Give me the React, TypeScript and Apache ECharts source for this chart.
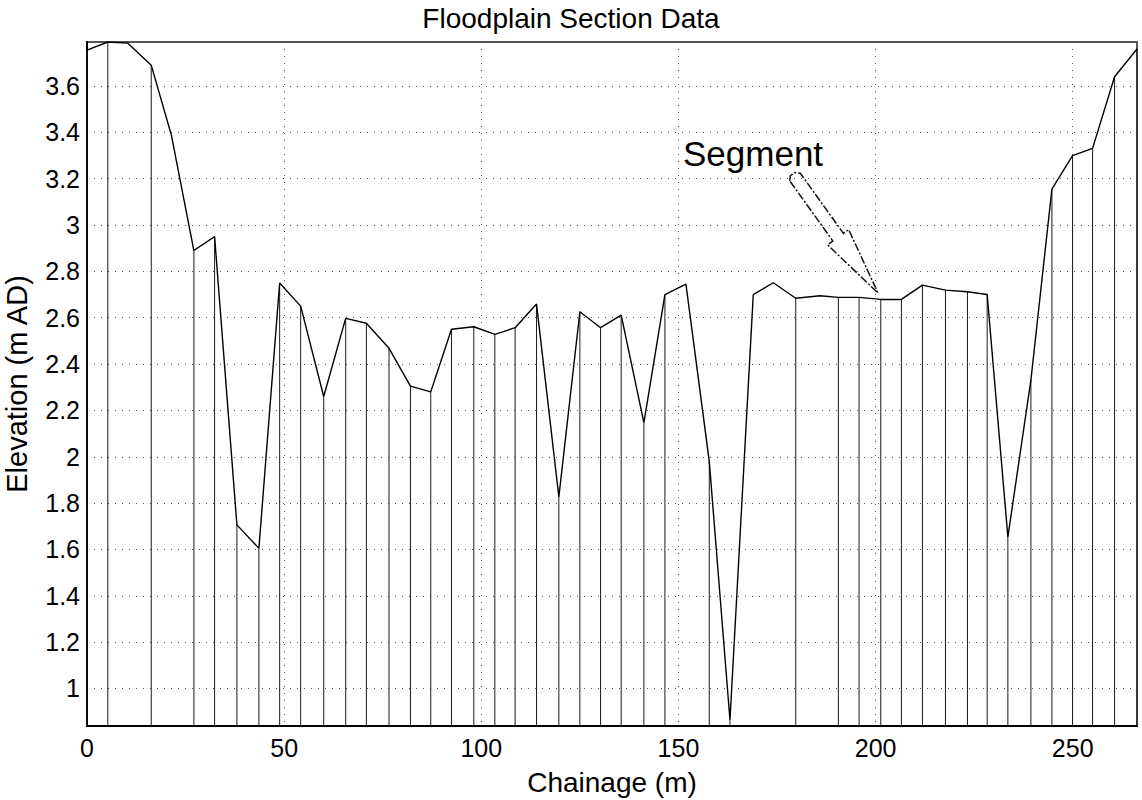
import React, { useEffect, useRef } from "react";
import * as echarts from "echarts";

// Chainage (m) of each surveyed point along the floodplain section
const chainage: number[] = [
  0, 5.28, 10.36, 16.29, 21.37, 27.11, 32.36, 38.02, 43.6, 48.86,
  54.19, 60.03, 65.61, 70.86, 76.6, 82.03, 87.18, 92.44, 98.1, 103.43,
  108.58, 114.01, 119.67, 125.0, 130.25, 135.48, 141.24, 146.57, 151.9, 157.82,
  163.07, 168.98, 174.06, 179.75, 185.91, 190.56, 195.81, 201.32, 206.55, 211.88,
  217.72, 223.3, 228.3, 233.55, 239.39, 244.72, 249.95, 255.03, 260.61, 266.3,
];

// Elevation (m AD) at each point
const elevation: number[] = [
  3.755, 3.79, 3.785, 3.69, 3.39, 2.89, 2.95, 1.706, 1.605, 2.75,
  2.65, 2.26, 2.597, 2.576, 2.468, 2.305, 2.28, 2.55, 2.561, 2.528,
  2.557, 2.659, 1.827, 2.626, 2.557, 2.611, 2.147, 2.7, 2.745, 1.98,
  0.864, 2.7, 2.751, 2.684, 2.695, 2.688, 2.688, 2.679, 2.679, 2.741,
  2.719, 2.712, 2.7, 1.654, 2.331, 3.155, 3.3, 3.331, 3.64, 3.76,
];

// 1 = a segment boundary (vertical section line) is drawn at this point
const segmentBoundary: number[] = [
  1, 1, 0, 1, 0, 1, 1, 1, 1, 1,
  1, 1, 1, 1, 1, 1, 1, 1, 1, 1,
  1, 1, 1, 1, 1, 1, 1, 1, 0, 1,
  1, 0, 0, 1, 0, 1, 1, 1, 1, 1,
  1, 1, 1, 1, 1, 1, 1, 1, 1, 1,
];

const xMin = 0;
const xMax = 266.3;
const yMin = 0.838;
const yMax = 3.79;

const titleText = "Floodplain Section Data";
const xName = "Chainage (m)";
const yName = "Elevation (m AD)";
const annotationText = "Segment";

const FONT = "'Liberation Sans', Arial, sans-serif";

export default function App() {
  const ref = useRef<HTMLDivElement>(null);

  useEffect(() => {
    if (!ref.current) return;
    const chart = echarts.init(ref.current, undefined, { renderer: "svg" });

    const profile = chainage.map((c, i) => [c, elevation[i]]);
    const sections = chainage
      .map((c, i) => [c, elevation[i], segmentBoundary[i]])
      .filter((d) => d[2] === 1)
      .map((d) => [d[0], d[1]]);

    const option: any = {
      animation: false,
      backgroundColor: "#ffffff",
      textStyle: { fontFamily: FONT },
      title: {
        text: titleText,
        left: "center",
        top: 4,
        padding: 0,
        textStyle: { fontFamily: FONT, fontSize: 28, fontWeight: "normal", color: "#000" },
      },
      grid: {
        left: 87,
        right: 5,
        top: 42,
        bottom: 74,
        outerBoundsMode: "none",
        containLabel: false,
        show: true,
        borderColor: "#555",
        borderWidth: 2,
        backgroundColor: "#fff",
      },
      xAxis: {
        type: "value",
        min: xMin,
        max: xMax,
        splitNumber: 5,
        name: xName,
        nameLocation: "middle",
        nameGap: 42,
        nameTextStyle: { fontFamily: FONT, fontSize: 28, color: "#000" },
        axisLine: { show: true, onZero: false, lineStyle: { color: "#000", width: 2 } },
        axisTick: { show: false },
        axisLabel: {
          showMaxLabel: false,
          fontFamily: FONT,
          fontSize: 25,
          color: "#000",
          margin: 9,
        },
        splitLine: { show: true, lineStyle: { color: "#555", type: [1, 6], width: 1 } },
      },
      yAxis: {
        type: "value",
        min: yMin,
        max: yMax,
        splitNumber: 15,
        name: yName,
        nameLocation: "middle",
        nameGap: 56,
        nameTextStyle: { fontFamily: FONT, fontSize: 29, color: "#000" },
        axisLine: { show: true, onZero: false, lineStyle: { color: "#000", width: 2 } },
        axisTick: { show: false },
        axisLabel: {
          showMinLabel: false,
          showMaxLabel: false,
          fontFamily: FONT,
          fontSize: 25,
          color: "#000",
          margin: 7,
        },
        splitLine: { show: true, lineStyle: { color: "#555", type: [1, 6], width: 1 } },
      },
      series: [
        {
          type: "custom",
          name: "Segments",
          data: sections,
          z: 2,
          renderItem: (params: any, api: any) => {
            const x = api.value(0);
            const y = api.value(1);
            const top = api.coord([x, y]);
            const bottom = api.coord([x, yMin]);
            return {
              type: "line",
              shape: { x1: top[0], y1: top[1], x2: bottom[0], y2: bottom[1] },
              style: { stroke: "#1a1a1a", lineWidth: 1 },
            };
          },
        },
        {
          type: "line",
          name: "Profile",
          data: profile,
          symbol: "none",
          z: 3,
          lineStyle: { color: "#000", width: 1.4 },
        },
      ],
      graphic: [
        {
          type: "text",
          x: 683,
          y: 153,
          style: {
            text: annotationText,
            fontFamily: FONT,
            fontSize: 35,
            fill: "#000",
            textVerticalAlign: "middle",
          },
        },
        {
          type: "polygon",
          shape: {
            points: [
              [789.7, 180.8],
              [790.5, 175.5],
              [795, 172.5],
              [800.3, 173.2],
              [843.4, 233.4],
              [848.7, 229.6],
              [878, 293],
              [827.5, 244.8],
              [832.8, 241.0],
            ],
          },
          style: { fill: "none", stroke: "#111", lineWidth: 1.5, lineDash: [8, 2, 2, 2] },
        },
      ],
    };

    chart.setOption(option);
    return () => chart.dispose();
  }, []);

  return (
    <div
      ref={ref}
      style={{ position: "absolute", left: 0, top: 0, width: 1142, height: 800, background: "#fff" }}
    />
  );
}
